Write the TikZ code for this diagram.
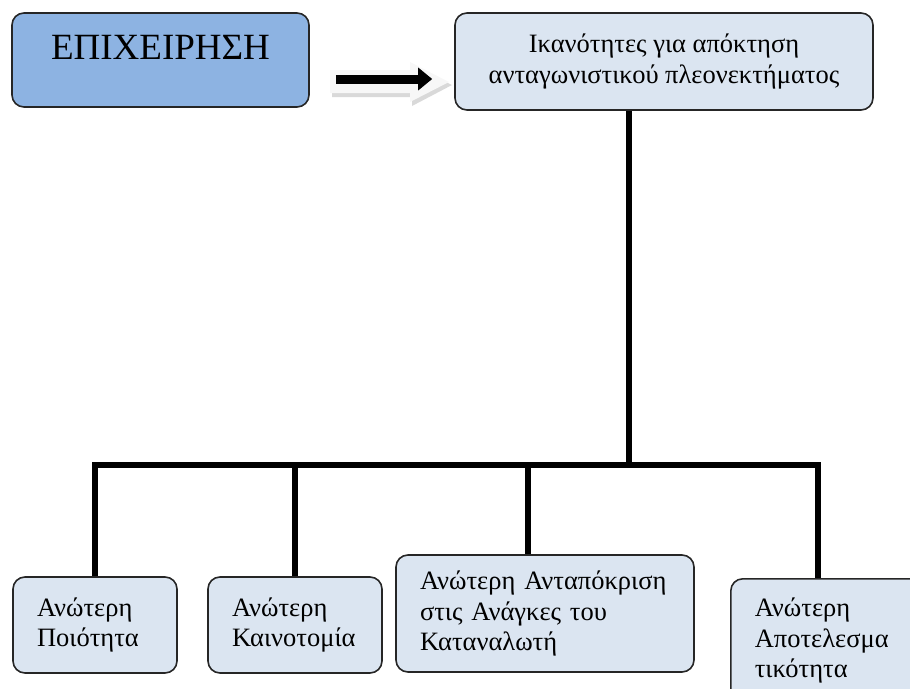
\documentclass[tikz,border=0pt]{standalone}
\usepackage{fontspec}
\setmainfont{Liberation Serif}
\usetikzlibrary{arrows.meta,positioning}

\definecolor{firmblue}{RGB}{141,179,226}
\definecolor{paleblue}{RGB}{219,229,241}

\begin{document}
\begin{tikzpicture}[x=1pt, y=-1pt,
  box/.style={draw=black!85, line width=1.6pt, rounded corners=12pt, fill=paleblue,
    inner xsep=24pt, align=left, font=\fontsize{26.5}{30.5}\selectfont},
  link/.style={line width=6pt, line join=miter},
  flow/.style={line width=9pt, -{Triangle[length=14pt,width=22pt]}}]
  \useasboundingbox (0,0) rectangle (910,688);
  \clip (0,0) rectangle (910,688);

  % top row
  \node[box, fill=firmblue, align=center, minimum width=297pt, minimum height=94pt,
    text depth=26pt, font=\fontsize{37}{40}\selectfont] (firm) at (160.5,60) {ΕΠΙΧΕΙΡΗΣΗ};
  \node[box, align=center, minimum width=418pt, minimum height=97pt] (goal) at (664,61.5)
    {Ικανότητες για απόκτηση\\ανταγωνιστικού πλεονεκτήματος};

  % block arrow behind
  \fill[gray!30] (332,74) -- (412,74) -- (412,66) -- (452,85) -- (412,106) -- (412,97) -- (332,97) -- cycle;
  \fill[gray!6] (330,70) -- (410,70) -- (410,62) -- (449,82) -- (410,102) -- (410,93) -- (330,93) -- cycle;
  \draw[flow, shorten <=26pt, shorten >=22pt] ([yshift=-19pt]firm.east) -- ([yshift=-17.5pt]goal.west);

  % bottom row
  \node[box, text width=116pt, minimum width=164pt, minimum height=96pt] (quality) at (95,625)
    {Ανώτερη\\Ποιότητα};
  \node[box, text width=126pt, minimum width=174pt, minimum height=96pt] (innov) at (295,625)
    {Ανώτερη\\Καινοτομία};
  \node[box, text width=250pt, minimum width=298pt, minimum height=117pt] (resp) at (545,613.5)
    {Ανώτερη Ανταπόκριση\\στις Ανάγκες του\\Καταναλωτή};
  \node[box, anchor=north west, text width=152pt, minimum width=200pt, minimum height=124pt] (eff) at (730,578)
    {Ανώτερη\\Αποτελεσμα\\τικότητα};

  % tree
  \coordinate (hub) at (629,465);
  \draw[link] (goal.south -| hub) -- (hub);
  \draw[link] (quality.north) |- (hub) -| (eff.north -| 818,0);
  \draw[link] (innov.north) -- (innov.north |- hub);
  \draw[link] (resp.north -| 528,0) -- (528,465);
\end{tikzpicture}
\end{document}
